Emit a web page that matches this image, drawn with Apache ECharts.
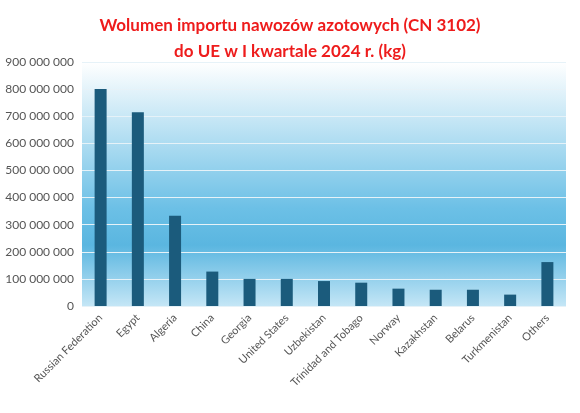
<!DOCTYPE html>
<html><head><meta charset="utf-8">
<script src="https://cdn.jsdelivr.net/npm/echarts@6/dist/echarts.min.js"></script>
<style>html,body{margin:0;padding:0;background:#fff}#c{width:580px;height:413px}</style>
</head><body><div id="c"></div>
<script>
const categories = ["Russian Federation","Egypt","Algeria","China","Georgia","United States","Uzbekistan","Trinidad and Tobago","Norway","Kazakhstan","Belarus","Turkmenistan","Others"];
const values = [800000000,715000000,333000000,127000000,100000000,100000000,92000000,86000000,64000000,60000000,60000000,42000000,162000000];
const titleText = "Wolumen importu nawozów azotowych (CN 3102)\ndo UE w I kwartale 2024 r. (kg)";
const fmt = v => String(v).replace(/\B(?=(\d{3})+(?!\d))/g, " ");
const chart = echarts.init(document.getElementById('c'));
chart.setOption({
  animation:false,
  title:{text:titleText,left:'center',top:8,textStyle:{color:'#ee1c1c',fontSize:17,fontWeight:'bold',fontFamily:'Lato',lineHeight:26}},
  grid:{left:82,right:14,top:62,bottom:107,backgroundColor:new echarts.graphic.LinearGradient(0,0,0,1,[{offset:0,color:'#ffffff'},{offset:0.6,color:'#6cc0e6'},{offset:0.75,color:'#5ab6e0'},{offset:1,color:'#c4e6f6'}]),show:true,borderWidth:0},
  xAxis:{type:'category',data:categories,axisLine:{show:false},axisTick:{show:false},
    axisLabel:{rotate:45,interval:0,color:'#555',fontSize:11,fontFamily:'Lato',margin:10}},
  yAxis:{type:'value',min:0,max:900000000,interval:100000000,
    axisLabel:{formatter:fmt,color:'#555',fontSize:12,fontFamily:'Lato',margin:8},
    splitLine:{lineStyle:{color:'#e6f2f8',width:1}}},
  series:[{type:'bar',data:values,barWidth:12,itemStyle:{color:'#1b5b7c'}}]
});
</script></body></html>
